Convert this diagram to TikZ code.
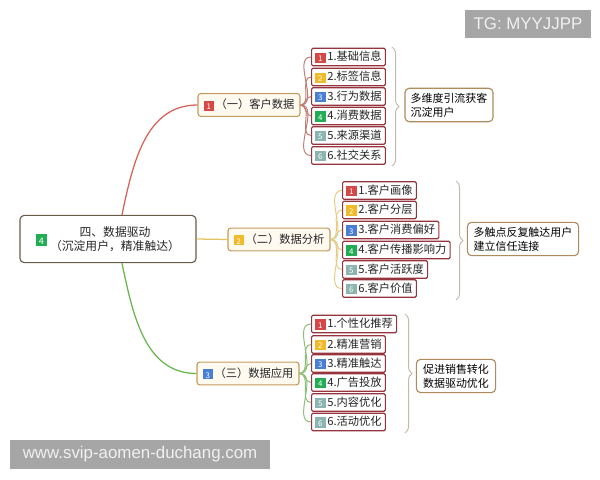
\documentclass[tikz,border=0pt]{standalone}
\usepackage{fontspec}
\setmainfont{Noto Sans CJK SC}
\newfontfamily\markfont{Liberation Sans}
\usetikzlibrary{decorations.pathreplacing}

\definecolor{BadgeRed}{RGB}{214,72,72}
\definecolor{BadgeYellow}{RGB}{240,186,40}
\definecolor{BadgeBlue}{RGB}{72,126,212}
\definecolor{BadgeGreen}{RGB}{34,172,84}
\definecolor{BadgeGray}{RGB}{140,180,176}
\definecolor{LeafRed}{RGB}{150,52,62}
\definecolor{BranchGold}{RGB}{196,156,92}
\definecolor{BranchFill}{RGB}{254,250,240}
\definecolor{RootBrown}{RGB}{105,92,72}
\definecolor{NoteBrown}{RGB}{176,138,92}
\definecolor{TextDark}{RGB}{38,38,38}
\definecolor{LinkRed}{RGB}{214,98,88}
\definecolor{LinkYellow}{RGB}{226,196,96}
\definecolor{LinkGreen}{RGB}{104,182,78}
\definecolor{FanRed}{RGB}{190,126,116}
\definecolor{FanYellow}{RGB}{226,204,130}
\definecolor{FanGreen}{RGB}{140,190,120}
\definecolor{BraceGray}{RGB}{196,186,172}
\definecolor{MarkGray}{RGB}{166,166,166}

\newcommand{\leaffont}{\fontsize{8}{9.5}\selectfont}
\newcommand{\notefont}{\fontsize{7.8}{9.8}\selectfont}
\newcommand{\numbadge}[2]{\raisebox{-0.6pt}{\setlength{\fboxsep}{0pt}\colorbox{#1}{\makebox[7.4pt][c]{\rule[-1pt]{0pt}{7.4pt}\color{white}\fontsize{5.6}{5.6}\selectfont #2}}}\hspace{1.2pt}}

\begin{document}
\begin{tikzpicture}[x=0.025cm, y=-0.025cm,
        rootbox/.style={rectangle, draw=RootBrown, fill=white, line width=0.8pt,
                        rounded corners=3pt, minimum width=4.4cm, minimum height=1.18cm},
        branchbox/.style={rectangle, draw=BranchGold, fill=BranchFill, line width=0.8pt,
                          rounded corners=2pt, minimum width=2.55cm, minimum height=0.57cm,
                          font=\leaffont, text=TextDark},
        leafbox/.style={rectangle, draw=LeafRed, fill=white, line width=0.8pt,
                        rounded corners=1pt, minimum height=0.44cm, inner xsep=2.6pt,
                        inner ysep=0pt, anchor=west, font=\leaffont, text=TextDark},
        notebox/.style={rectangle, draw=NoteBrown, fill=white, line width=0.8pt,
                        rounded corners=3pt, minimum height=0.8cm, align=left,
                        inner xsep=4pt, font=\notefont, text=black},
        markbox/.style={rectangle, fill=MarkGray, text=white!94!black,
                        font=\markfont\fontsize{12}{12}\selectfont, inner xsep=6pt},
        fanline/.style={line width=0.7pt},
        bracket/.style={draw=BraceGray, line width=0.7pt,
                        decorate, decoration={brace, amplitude=5pt}}
      ]
        \useasboundingbox (0,0) rectangle (600,480);

        % centre
        \node[rootbox] (root) at (108,239) {};
        \node[font=\fontsize{8.4}{10.2}\selectfont, text=TextDark, align=center] (roottxt) at (115,239)
             {四、数据驱动\\（沉淀用户，精准触达）};
        \node[inner sep=0pt, scale=1.15] (rootbadge) at (41.5,240) {\numbadge{BadgeGreen}{4}};

        % branches
        \node[branchbox] (b1) at (249,105)   {\numbadge{BadgeRed}{1}（一）客户数据};
        \node[branchbox] (b2) at (279,239.5) {\numbadge{BadgeYellow}{2}（二）数据分析};
        \node[branchbox] (b3) at (248,373.5) {\numbadge{BadgeBlue}{3}（三）数据应用};

        \draw[LinkRed, line width=0.9pt]    (root.60)  to[out=78,in=180]  (b1.west);
        \draw[LinkYellow, line width=0.9pt] (root.east) -- (b2.west);
        \draw[LinkGreen, line width=0.9pt]  (root.-60) to[out=-78,in=180] (b3.west);

        % customer data
        \node[leafbox] (a1) at (311,57)    {\numbadge{BadgeRed}{1}1.基础信息};
        \node[leafbox] (a2) at (311,77)    {\numbadge{BadgeYellow}{2}2.标签信息};
        \node[leafbox] (a3) at (311,96.5)  {\numbadge{BadgeBlue}{3}3.行为数据};
        \node[leafbox] (a4) at (311,116)   {\numbadge{BadgeGreen}{4}4.消费数据};
        \node[leafbox] (a5) at (311,135.5) {\numbadge{BadgeGray}{5}5.来源渠道};
        \node[leafbox] (a6) at (311,155.5) {\numbadge{BadgeGray}{6}6.社交关系};

        % data analysis
        \node[leafbox] (d1) at (342,190.5) {\numbadge{BadgeRed}{1}1.客户画像};
        \node[leafbox] (d2) at (342,210)   {\numbadge{BadgeYellow}{2}2.客户分层};
        \node[leafbox] (d3) at (342,230)   {\numbadge{BadgeBlue}{3}3.客户消费偏好};
        \node[leafbox] (d4) at (342,250)   {\numbadge{BadgeGreen}{4}4.客户传播影响力};
        \node[leafbox] (d5) at (342,269.5) {\numbadge{BadgeGray}{5}5.客户活跃度};
        \node[leafbox] (d6) at (342,288.5) {\numbadge{BadgeGray}{6}6.客户价值};

        % data application
        \node[leafbox] (u1) at (311,324)   {\numbadge{BadgeRed}{1}1.个性化推荐};
        \node[leafbox] (u2) at (311,344.5) {\numbadge{BadgeYellow}{2}2.精准营销};
        \node[leafbox] (u3) at (311,363.5) {\numbadge{BadgeBlue}{3}3.精准触达};
        \node[leafbox] (u4) at (311,382.5) {\numbadge{BadgeGreen}{4}4.广告投放};
        \node[leafbox] (u5) at (311,402.5) {\numbadge{BadgeGray}{5}5.内容优化};
        \node[leafbox] (u6) at (311,422)   {\numbadge{BadgeGray}{6}6.活动优化};

        \draw[fanline, FanRed]    (b1.east) to[out=0,in=180] (a1.west);
        \draw[fanline, FanRed]    (b1.east) to[out=0,in=180] (a2.west);
        \draw[fanline, FanRed]    (b1.east) to[out=0,in=180] (a3.west);
        \draw[fanline, FanRed]    (b1.east) to[out=0,in=180] (a4.west);
        \draw[fanline, FanRed]    (b1.east) to[out=0,in=180] (a5.west);
        \draw[fanline, FanRed]    (b1.east) to[out=0,in=180] (a6.west);

        \draw[fanline, FanYellow] (b2.east) to[out=0,in=180] (d1.west);
        \draw[fanline, FanYellow] (b2.east) to[out=0,in=180] (d2.west);
        \draw[fanline, FanYellow] (b2.east) to[out=0,in=180] (d3.west);
        \draw[fanline, FanYellow] (b2.east) to[out=0,in=180] (d4.west);
        \draw[fanline, FanYellow] (b2.east) to[out=0,in=180] (d5.west);
        \draw[fanline, FanYellow] (b2.east) to[out=0,in=180] (d6.west);

        \draw[fanline, FanGreen]  (b3.east) to[out=0,in=180] (u1.west);
        \draw[fanline, FanGreen]  (b3.east) to[out=0,in=180] (u2.west);
        \draw[fanline, FanGreen]  (b3.east) to[out=0,in=180] (u3.west);
        \draw[fanline, FanGreen]  (b3.east) to[out=0,in=180] (u4.west);
        \draw[fanline, FanGreen]  (b3.east) to[out=0,in=180] (u5.west);
        \draw[fanline, FanGreen]  (b3.east) to[out=0,in=180] (u6.west);

        % summaries
        \coordinate (br1a) at (392,47);  \coordinate (br1b) at (392,166);
        \coordinate (br2a) at (456,181); \coordinate (br2b) at (456,300);
        \coordinate (br3a) at (405,314); \coordinate (br3b) at (405,433);
        \draw[bracket] (br1a) -- (br1b);
        \draw[bracket] (br2a) -- (br2b);
        \draw[bracket] (br3a) -- (br3b);

        \node[notebox, minimum width=2.2cm]  (n1) at (449,105) {多维度引流获客\\沉淀用户};
        \node[notebox, minimum width=2.78cm] (n2) at (523,239) {多触点反复触达用户\\建立信任连接};
        \node[notebox, minimum width=1.98cm] (n3) at (456,376) {促进销售转化\\数据驱动优化};

        % overlays
        \node[markbox, minimum width=3.1cm, minimum height=0.7cm] (tgmark) at (528,24) {TG: MYYJJPP};
        \node[markbox, minimum width=6.5cm, minimum height=0.74cm] (sitemark) at (140,454.5) {www.svip-aomen-duchang.com};
      \end{tikzpicture}
\end{document}
